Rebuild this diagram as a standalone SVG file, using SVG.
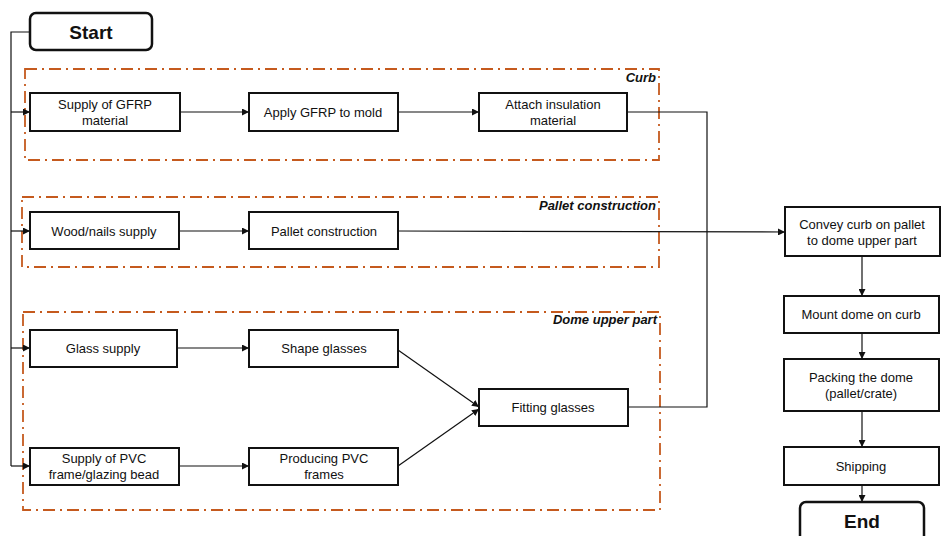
<svg xmlns="http://www.w3.org/2000/svg" width="944" height="536" viewBox="0 0 944 536">
<style>
.box{fill:#fff;stroke:#111;stroke-width:2}
.term{fill:#fff;stroke:#111;stroke-width:2.5}
.grp{fill:none;stroke:#C55A1E;stroke-width:1.8;stroke-dasharray:12 5 2 5}
.t{font-family:"Liberation Sans",Arial,sans-serif;font-size:13px;fill:#111;text-anchor:middle}
.tb{font-family:"Liberation Sans",Arial,sans-serif;font-size:19px;font-weight:bold;fill:#111;text-anchor:middle}
.gl{font-family:"Liberation Sans",Arial,sans-serif;font-size:13px;font-weight:bold;font-style:italic;fill:#111;text-anchor:end}
.c{fill:none;stroke:#111;stroke-width:1.2}
</style>
<defs>
<marker id="ah" viewBox="0 0 10 10" refX="10" refY="5" markerWidth="7" markerHeight="7" markerUnits="userSpaceOnUse" orient="auto">
<path d="M0,0 L10,5 L0,10 z" fill="#111"/>
</marker>
</defs>
<rect width="944" height="536" fill="#fff"/>
<g id="groups">
<g id="grp-curb"><rect class="grp" x="25" y="69" width="634" height="91"/><text class="gl" x="656" y="82">Curb</text></g>
<g id="grp-pallet"><rect class="grp" x="22" y="197" width="637" height="70"/><text class="gl" x="656" y="210">Pallet construction</text></g>
<g id="grp-dome"><rect class="grp" x="23" y="312" width="637" height="198"/><text class="gl" x="657" y="324">Dome upper part</text></g>
</g>
<g id="connectors">
<polyline class="c" points="30,32 11,32 11,466"/>
<line class="c" x1="11" y1="112" x2="30" y2="112" marker-end="url(#ah)"/>
<line class="c" x1="11" y1="231" x2="30" y2="231" marker-end="url(#ah)"/>
<line class="c" x1="11" y1="348" x2="30" y2="348" marker-end="url(#ah)"/>
<line class="c" x1="11" y1="466" x2="30" y2="466" marker-end="url(#ah)"/>
<line class="c" x1="180" y1="112" x2="249" y2="112" marker-end="url(#ah)"/>
<line class="c" x1="398" y1="112" x2="479" y2="112" marker-end="url(#ah)"/>
<line class="c" x1="179" y1="231" x2="249" y2="231" marker-end="url(#ah)"/>
<line class="c" x1="177" y1="348" x2="249" y2="348" marker-end="url(#ah)"/>
<line class="c" x1="179" y1="466" x2="249" y2="466" marker-end="url(#ah)"/>
<line class="c" x1="398" y1="350" x2="479" y2="407" marker-end="url(#ah)"/>
<line class="c" x1="398" y1="466" x2="479" y2="409" marker-end="url(#ah)"/>
<polyline class="c" points="627,112 707,112 707,407 628,407"/>
<line class="c" x1="398" y1="231" x2="785" y2="232" marker-end="url(#ah)"/>
<line class="c" x1="862" y1="256" x2="862" y2="296" marker-end="url(#ah)"/>
<line class="c" x1="862" y1="333" x2="862" y2="359" marker-end="url(#ah)"/>
<line class="c" x1="862" y1="411" x2="862" y2="447" marker-end="url(#ah)"/>
<line class="c" x1="862" y1="485" x2="862" y2="502" marker-end="url(#ah)"/>
</g>
<g id="start"><rect class="term" x="30" y="13" width="122" height="37" rx="6"/><text class="tb" x="91" y="39">Start</text></g>
<g id="n-gfrp-supply"><rect class="box" x="30" y="93" width="150" height="38"/><text class="t" x="105" y="109">Supply of GFRP</text><text class="t" x="105" y="125">material</text></g>
<g id="n-apply"><rect class="box" x="249" y="93" width="149" height="38"/><text class="t" x="323" y="117">Apply GFRP to mold</text></g>
<g id="n-attach"><rect class="box" x="479" y="93" width="148" height="38"/><text class="t" x="553" y="109">Attach insulation</text><text class="t" x="553" y="125">material</text></g>
<g id="n-wood"><rect class="box" x="30" y="212" width="149" height="37"/><text class="t" x="104" y="236">Wood/nails supply</text></g>
<g id="n-pallet"><rect class="box" x="249" y="212" width="149" height="37"/><text class="t" x="324" y="236">Pallet construction</text></g>
<g id="n-glass"><rect class="box" x="30" y="330" width="147" height="37"/><text class="t" x="103" y="353">Glass supply</text></g>
<g id="n-shape"><rect class="box" x="249" y="330" width="149" height="37"/><text class="t" x="324" y="353">Shape glasses</text></g>
<g id="n-pvc"><rect class="box" x="30" y="448" width="149" height="37"/><text class="t" x="104" y="463">Supply of PVC</text><text class="t" x="104" y="479">frame/glazing bead</text></g>
<g id="n-produce"><rect class="box" x="249" y="448" width="149" height="37"/><text class="t" x="324" y="463">Producing PVC</text><text class="t" x="324" y="479">frames</text></g>
<g id="n-fitting"><rect class="box" x="479" y="389" width="149" height="37"/><text class="t" x="553" y="412">Fitting glasses</text></g>
<g id="n-convey"><rect class="box" x="785" y="207" width="155" height="49"/><text class="t" x="862" y="229">Convey curb on pallet</text><text class="t" x="862" y="245">to dome upper part</text></g>
<g id="n-mount"><rect class="box" x="784" y="296" width="155" height="37"/><text class="t" x="861" y="319">Mount dome on curb</text></g>
<g id="n-pack"><rect class="box" x="784" y="359" width="155" height="52"/><text class="t" x="861" y="382">Packing the dome</text><text class="t" x="861" y="398">(pallet/crate)</text></g>
<g id="n-ship"><rect class="box" x="784" y="447" width="155" height="38"/><text class="t" x="861" y="471">Shipping</text></g>
<g id="end"><rect class="term" x="800" y="502" width="124" height="50" rx="6"/><text class="tb" x="862" y="528">End</text></g>
</svg>
